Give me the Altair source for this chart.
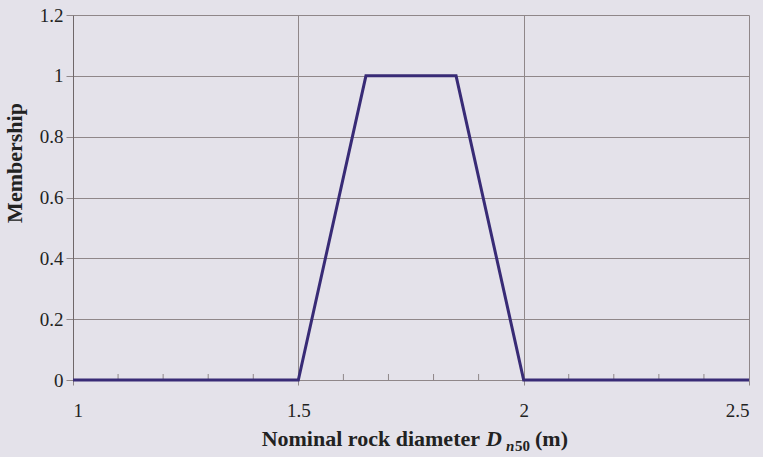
import altair as alt
import pandas as pd

# Trapezoidal membership function for the nominal rock diameter
diameter = [1.0, 1.5, 1.65, 1.85, 2.0, 2.5]
membership = [0, 0, 1, 1, 0, 0]

x_major = [1.0, 1.5, 2.0, 2.5]
x_minor = [1.1, 1.2, 1.3, 1.4, 1.6, 1.7, 1.8, 1.9, 2.1, 2.2, 2.3, 2.4]
y_ticks = [0, 0.2, 0.4, 0.6, 0.8, 1.0, 1.2]

W, H = 676, 365
SERIF = "Liberation Serif"
BG = "#e4e2ea"
GRID = "#8f8789"
LINE = "#382b76"

df = pd.DataFrame({"d": diameter, "m": membership})
minor = pd.DataFrame({"t": x_minor})

x_scale = alt.Scale(domain=[1.0, 2.5], nice=False, zero=False)
y_scale = alt.Scale(domain=[0, 1.2], nice=False)

x_axis = alt.Axis(values=x_major, format="~g", grid=True, gridColor=GRID,
                  domain=False, tickSize=5, tickColor=GRID,
                  labelPadding=16, labelFont=SERIF, labelFontSize=19,
                  labelColor="#222", title=None)
y_axis = alt.Axis(values=y_ticks, format="~g", grid=True, gridColor=GRID,
                  domainColor="#6f6769", tickSize=7, tickColor=GRID,
                  labelPadding=3, labelFont=SERIF, labelFontSize=19,
                  labelColor="#222", title=None)

line = alt.Chart(df).mark_line(color=LINE, strokeWidth=3).encode(
    x=alt.X("d:Q", scale=x_scale, axis=x_axis),
    y=alt.Y("m:Q", scale=y_scale, axis=y_axis),
)

minor_ticks = alt.Chart(minor).mark_rule(color=GRID, strokeWidth=1).encode(
    x=alt.X("t:Q", scale=x_scale),
    y=alt.value(H - 6),
    y2=alt.value(H + 1),
)

def label(text, x, y, size=22, style="normal", weight="bold", align="left", angle=0):
    return alt.Chart(pd.DataFrame({"s": [text]})).mark_text(
        font=SERIF, fontSize=size, fontStyle=style, fontWeight=weight,
        align=align, baseline="alphabetic", angle=angle, color="#222",
    ).encode(text="s:N", x=alt.value(x), y=alt.value(y))

y_title = alt.Chart(pd.DataFrame({"s": ["Membership"]})).mark_text(
    font=SERIF, fontSize=22, fontWeight="bold", align="center",
    baseline="middle", angle=270, color="#222",
).encode(text="s:N", x=alt.value(-58), y=alt.value(148))

x_title = [
    label("Nominal rock diameter", 407, 431, align="right"),
    label("D", 413, 431, style="italic"),
    label("n", 433, 436, size=15, style="italic"),
    label("50", 442, 436, size=15),
    label("(m)", 462, 431),
]

chart = alt.layer(minor_ticks, line, y_title, *x_title).properties(
    width=W, height=H,
    background=BG,
    autosize=alt.AutoSizeParams(type="none"),
    padding={"left": 73, "top": 15, "right": 14, "bottom": 77},
).configure_view(stroke=None)

chart.save("out.html", embed_options={"renderer": "svg", "actions": False})
